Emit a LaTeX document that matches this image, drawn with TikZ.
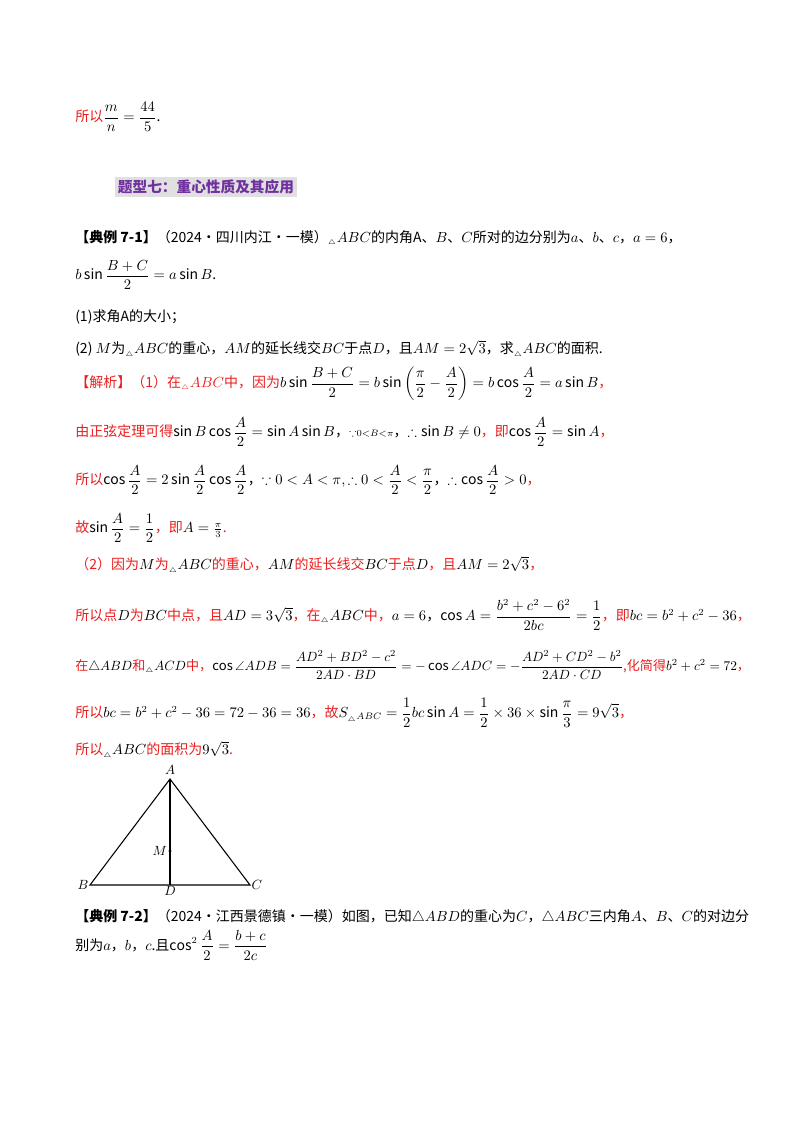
\documentclass[tikz,border=0pt]{standalone}
\usepackage{amsmath,amssymb}
\usepackage{fontspec}
\setmainfont{Noto Sans CJK SC}
\definecolor{myred}{RGB}{235,30,30}
\definecolor{mypurple}{RGB}{112,48,160}
\newcommand{\tri}{{}_{\scriptscriptstyle\triangle}}
\begin{document}
\begin{tikzpicture}[x=0.75pt,y=-0.75pt,
  ln/.style={anchor=west,inner sep=0pt,font=\fontsize{10.5}{13}\selectfont},
  rl/.style={ln,text=myred}]
\useasboundingbox (0,0) rectangle (800,1132);
\node[ln] (l0) at (75,117) {\textcolor{myred}{所以}$\displaystyle\frac{m}{n}=\frac{44}{5}$.};
\node[anchor=west,inner sep=2pt,fill=black!12,text=mypurple,font=\fontsize{11}{13}\selectfont\bfseries] (t) at (115,187) {题型七：重心性质及其应用};
\node[ln] (l1) at (75,238) {\textbf{【典例 7-1】}（2024·四川内江·一模）$\tri ABC$的内角A、$B$、$C$所对的边分别为$a$、$b$、$c$，$a=6$，};
\node[ln] (l2) at (75,275) {$\displaystyle b\sin\frac{B+C}{2}=a\sin B$.};
\node[ln] (l3) at (75,317) {(1)求角A的大小；};
\node[ln] (l4) at (75,349) {(2) $M$为$\tri ABC$的重心，$AM$的延长线交$BC$于点$D$，且$AM=2\sqrt3$，求$\tri ABC$的面积.};
\node[rl] (l5) at (75,384) {【解析】（1）在$\tri ABC$中，因为\textcolor{black}{$\displaystyle b\sin\frac{B+C}{2}=b\sin\left(\frac{\pi}{2}-\frac{A}{2}\right)=b\cos\frac{A}{2}=a\sin B$}，};
\node[rl] (l6) at (75,432) {由正弦定理可得\textcolor{black}{$\displaystyle\sin B\cos\frac{A}{2}=\sin A\sin B$，$\scriptstyle\because 0<B<\pi$，$\therefore \sin B\neq0$}，即\textcolor{black}{$\displaystyle\cos\frac{A}{2}=\sin A$}，};
\node[rl] (l7) at (75,480) {所以\textcolor{black}{$\displaystyle\cos\frac{A}{2}=2\sin\frac{A}{2}\cos\frac{A}{2}$，$\displaystyle\because 0<A<\pi,\therefore 0<\frac{A}{2}<\frac{\pi}{2}$，$\displaystyle\therefore\cos\frac{A}{2}>0$}，};
\node[rl] (l8) at (75,528) {故\textcolor{black}{$\displaystyle\sin\frac{A}{2}=\frac12$}，即\textcolor{black}{$A=\frac{\pi}{3}$}.};
\node[rl] (l9) at (75,565) {（2）因为\textcolor{black}{$M$}为\textcolor{black}{$\tri ABC$}的重心，\textcolor{black}{$AM$}的延长线交\textcolor{black}{$BC$}于点\textcolor{black}{$D$}，且\textcolor{black}{$AM=2\sqrt3$}，};
\node[rl] (l10) at (75,615) {所以点\textcolor{black}{$D$}为\textcolor{black}{$BC$}中点，且\textcolor{black}{$AD=3\sqrt3$}，在\textcolor{black}{$\tri ABC$}中，\textcolor{black}{$a=6$，$\displaystyle\cos A=\frac{b^2+c^2-6^2}{2bc}=\frac12$}，即\textcolor{black}{$bc=b^2+c^2-36$}，};
\node[rl,font=\fontsize{9.8}{12}\selectfont] (l11) at (75,665) {在\textcolor{black}{$\triangle ABD$}和\textcolor{black}{$\tri ACD$}中，\textcolor{black}{$\displaystyle\cos\angle ADB=\frac{AD^2+BD^2-c^2}{2AD\cdot BD}=-\cos\angle ADC=-\frac{AD^2+CD^2-b^2}{2AD\cdot CD}$},化简得\textcolor{black}{$b^2+c^2=72$}，};
\node[rl] (l12) at (75,713) {所以\textcolor{black}{$bc=b^2+c^2-36=72-36=36$}，故\textcolor{black}{$\displaystyle S_{\tri ABC}=\frac12 bc\sin A=\frac12\times36\times\sin\frac{\pi}{3}=9\sqrt3$}，};
\node[rl] (l13) at (75,750) {所以\textcolor{black}{$\tri ABC$}的面积为\textcolor{black}{$9\sqrt3$}.};
% triangle
\coordinate (A) at (170,779);
\coordinate (B) at (90,885);
\coordinate (C) at (250,885);
\coordinate (D) at (170,885);
\coordinate (M) at (170,851);
\draw[line width=0.8pt] (A) -- (B) -- (C) -- cycle;
\draw[line width=0.8pt] (A) -- (D);
\fill (M) circle (1.6);
\node[above] (la) at (A) {$A$};
\node[left,inner sep=1pt] (lb) at (B) {$B$};
\node[right,inner sep=1pt] (lc) at (C) {$C$};
\node[below,inner sep=1pt] (ld) at (D) {$D$};
\node[left,inner sep=2pt] (lm) at (M) {$M$};
\node[ln] (l14) at (75,917) {\textbf{【典例 7-2】}（2024·江西景德镇·一模）如图，已知$\triangle ABD$的重心为$C$，$\triangle ABC$三内角$A$、$B$、$C$的对边分};
\node[ln] (l15) at (75,945) {别为$a$，$b$，$c$.且$\displaystyle\cos^2\frac{A}{2}=\frac{b+c}{2c}$};
\end{tikzpicture}
\end{document}
